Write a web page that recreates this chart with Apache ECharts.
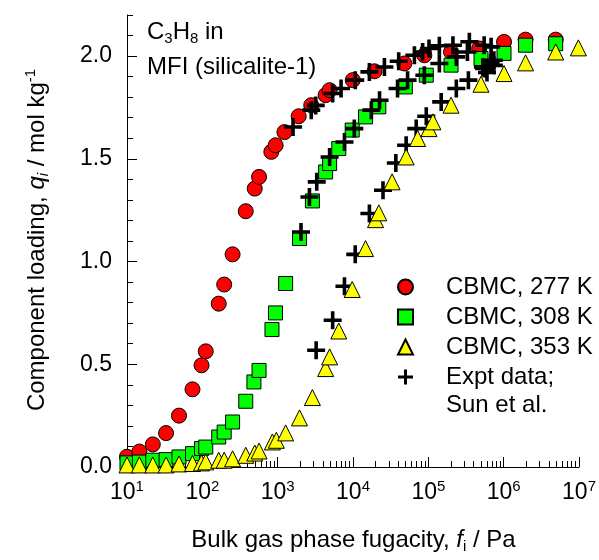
<!DOCTYPE html>
<html>
<head>
<meta charset="utf-8">
<script src="https://cdn.jsdelivr.net/npm/echarts@6/dist/echarts.min.js"></script>
<style>
  html, body { margin: 0; padding: 0; background: #fff; }
  #chart { width: 599px; height: 560px; }
</style>
</head>
<body>
<div id="chart"></div>
<script>
// fugacity in Pa, loading in mol/kg
const f277 = [10, 14.6, 22, 33, 49, 74, 97.5, 111, 165, 195, 252, 377, 496, 566, 824, 940, 1230, 1900, 2790, 4330, 4890, 9930, 19300, 48000, 88500, 2.0e5, 4.73e5, 1.01e6, 1.95e6, 4.9e6];
const q277 = [0.05, 0.075, 0.11, 0.165, 0.25, 0.378, 0.495, 0.563, 0.795, 0.888, 1.035, 1.245, 1.355, 1.412, 1.534, 1.566, 1.63, 1.707, 1.761, 1.81, 1.834, 1.883, 1.926, 1.964, 2.004, 2.02, 2.037, 2.069, 2.08, 2.08];

const f308 = [10, 14.6, 22, 33, 49, 74, 97.5, 111, 165, 195, 252, 377, 484, 566, 840, 935, 1276, 1950, 2890, 4330, 4890, 6470, 9750, 14660, 22000, 49500, 93800, 2.0e5, 5.0e5, 1.01e6, 1.95e6, 4.9e6];
const q308 = [0.02, 0.024, 0.033, 0.036, 0.049, 0.065, 0.09, 0.097, 0.146, 0.17, 0.219, 0.32, 0.414, 0.47, 0.669, 0.75, 0.893, 1.112, 1.295, 1.436, 1.477, 1.55, 1.64, 1.704, 1.753, 1.85, 1.907, 1.956, 1.988, 2.013, 2.053, 2.06];

const f353 = [10, 14.6, 22, 33, 49, 74, 97.5, 111, 165, 195, 252, 377, 496, 566, 850, 960, 1276, 1950, 2890, 4330, 4890, 6470, 9750, 14660, 19900, 22000, 33000, 50700, 72000, 102000, 115000, 2.0e5, 5.0e5, 1.01e6, 1.95e6, 4.9e6, 9.8e6];
const q353 = [0.01, 0.01, 0.01, 0.01, 0.015, 0.017, 0.02, 0.025, 0.033, 0.033, 0.04, 0.057, 0.068, 0.078, 0.122, 0.13, 0.166, 0.239, 0.338, 0.479, 0.536, 0.662, 0.864, 1.063, 1.204, 1.237, 1.388, 1.509, 1.599, 1.647, 1.68, 1.761, 1.863, 1.915, 1.967, 2.02, 2.04];

// experimental data (Sun et al.)
const fExp277 = [1600, 2790, 3200, 5370, 6940, 10700, 16500, 26100, 40400, 65300, 84000, 102000, 140000, 212000, 350000, 550000, 680000];
const qExp277 = [1.655, 1.737, 1.76, 1.818, 1.842, 1.883, 1.923, 1.947, 1.975, 2.004, 2.02, 2.037, 2.05, 2.053, 2.07, 2.053, 2.045];
const fExp308 = [2040, 2640, 3300, 4890, 7700, 10400, 17500, 22500, 39000, 53000, 88500, 140000, 235000, 330000, 550000, 670000, 740000];
const qExp308 = [1.144, 1.314, 1.388, 1.509, 1.582, 1.647, 1.737, 1.785, 1.842, 1.883, 1.907, 1.964, 1.996, 2.02, 1.94, 1.964, 1.98];
const fExp353 = [3240, 5370, 7700, 10700, 16500, 25000, 37000, 50700, 69000, 93800, 148000, 235000, 340000, 530000, 600000, 740000];
const qExp353 = [0.568, 0.714, 0.88, 1.035, 1.234, 1.347, 1.48, 1.566, 1.647, 1.707, 1.777, 1.842, 1.883, 1.947, 1.92, 1.955];

const xMajorTicks = [10, 100, 1e3, 1e4, 1e5, 1e6, 1e7];
const xMinorSteps = [2, 3, 4, 5, 6, 7, 8, 9];
const yMajorTicks = [0, 0.5, 1.0, 1.5, 2.0];
const yMinorTicks = [0.1, 0.2, 0.3, 0.4, 0.6, 0.7, 0.8, 0.9, 1.1, 1.2, 1.3, 1.4, 1.6, 1.7, 1.8, 1.9, 2.1, 2.2];

const font = 'Liberation Sans, Arial, Helvetica, sans-serif';
const crossPath = 'path://M8,0H12V8H20V12H12V20H8V12H0V8H8Z';

const zip = (xs, ys) => xs.map((x, i) => [x, ys[i]]);

const xMinorTicks = [];
xMajorTicks.slice(0, -1).forEach(d => xMinorSteps.forEach(k => xMinorTicks.push(d * k)));

const chart = echarts.init(document.getElementById('chart'), null, { renderer: 'canvas' });

const option = {
  backgroundColor: '#fff',
  animation: false,
  textStyle: { fontFamily: font },
  grid: { left: 127, right: 19, top: 15, bottom: 93, containLabel: false },
  xAxis: [
    {
      type: 'log', logBase: 10, min: 10, max: 1e7,
      axisLine: { lineStyle: { color: '#000', width: 1 } },
      axisTick: { inside: true, length: 10, lineStyle: { color: '#000' }, customValues: xMajorTicks },
      splitLine: { show: false },
      axisLabel: {
        customValues: xMajorTicks,
        margin: 12,
        color: '#000',
        formatter: v => '{b|10}{s|' + Math.round(Math.log10(v)) + '}',
        rich: {
          b: { fontSize: 23, lineHeight: 28, color: '#000', fontFamily: font },
          s: { fontSize: 15, lineHeight: 12, verticalAlign: 'top', color: '#000', fontFamily: font }
        }
      }
    },
    {
      type: 'log', logBase: 10, min: 10, max: 1e7, position: 'bottom', offset: 0,
      axisLine: { show: false },
      axisTick: { inside: true, length: 6, lineStyle: { color: '#000' }, customValues: xMinorTicks },
      axisLabel: { show: false },
      splitLine: { show: false }
    }
  ],
  yAxis: [
    {
      type: 'value', min: 0, max: 2.2,
      axisLine: { show: true, lineStyle: { color: '#000', width: 1 } },
      axisTick: { show: true, inside: true, length: 10, lineStyle: { color: '#000' }, customValues: yMajorTicks },
      splitLine: { show: false },
      axisLabel: {
        customValues: yMajorTicks,
        margin: 15,
        color: '#000', fontSize: 23, fontFamily: font,
        formatter: v => v.toFixed(1)
      }
    },
    {
      type: 'value', min: 0, max: 2.2, position: 'left', offset: 0,
      axisLine: { show: false },
      axisTick: { show: true, inside: true, length: 6, lineStyle: { color: '#000' }, customValues: yMinorTicks },
      axisLabel: { show: false },
      splitLine: { show: false }
    }
  ],
  legend: {
    orient: 'vertical', left: 392, top: 267,
    itemWidth: 15, itemHeight: 15, itemGap: 0,
    selectedMode: false,
    data: ['CBMC, 277 K', 'CBMC, 308 K', 'CBMC, 353 K', 'Expt data;'],
    textStyle: { fontSize: 24, color: '#000', lineHeight: 30, padding: [0, 0, 0, 28], fontFamily: font }
  },
  series: [
    {
      name: 'CBMC, 277 K', type: 'scatter', clip: false,
      symbol: 'circle', symbolSize: 15,
      itemStyle: { color: '#ff0000', borderColor: '#000', borderWidth: 1, opacity: 1 },
      data: zip(f277, q277)
    },
    {
      name: 'CBMC, 308 K', type: 'scatter', clip: false,
      symbol: 'rect', symbolSize: 14,
      itemStyle: { color: '#00ff00', borderColor: '#000', borderWidth: 1, opacity: 1 },
      data: zip(f308, q308)
    },
    {
      name: 'Expt data;', type: 'scatter', clip: false,
      symbol: crossPath, symbolSize: 18,
      itemStyle: { color: '#000', opacity: 1 },
      data: zip(fExp277, qExp277).concat(zip(fExp308, qExp308), zip(fExp353, qExp353))
    },
    {
      name: 'CBMC, 353 K', type: 'scatter', clip: false,
      symbol: 'triangle', symbolSize: 16,
      itemStyle: { color: '#ffff00', borderColor: '#000', borderWidth: 1, opacity: 1 },
      data: zip(f353, q353)
    }
  ],
  graphic: [
    {
      type: 'text', x: 147, y: 32,
      style: {
        text: '{n|C}{d|3}{n|H}{d|8}{n| in}',
        verticalAlign: 'middle', align: 'left',
        rich: {
          n: { fontSize: 24, lineHeight: 28, fontFamily: font, fill: '#000' },
          d: { fontSize: 15, lineHeight: 10, verticalAlign: 'bottom', fontFamily: font, fill: '#000' }
        }
      }
    },
    {
      type: 'text', x: 147, y: 67,
      style: { text: 'MFI (silicalite-1)', fontSize: 24, fontFamily: font, fill: '#000', verticalAlign: 'middle', align: 'left' }
    },
    {
      type: 'text', x: 446, y: 405,
      style: { text: 'Sun et al.', fontSize: 24, fontFamily: font, fill: '#000', verticalAlign: 'middle', align: 'left' }
    },
    {
      type: 'text', x: 353.5, y: 540,
      style: {
        text: '{n|Bulk gas phase fugacity, }{i|f}{d|i}{n| / Pa}',
        align: 'center', verticalAlign: 'middle',
        rich: {
          n: { fontSize: 24, lineHeight: 28, fontFamily: font, fill: '#000' },
          i: { fontSize: 24, lineHeight: 28, fontStyle: 'italic', fontFamily: font, fill: '#000' },
          d: { fontSize: 15, lineHeight: 10, verticalAlign: 'bottom', fontFamily: font, fill: '#000' }
        }
      }
    },
    {
      type: 'text', x: 37, y: 240, rotation: Math.PI / 2,
      style: {
        text: '{n|Component loading, }{i|q}{di|i}{n| / mol kg}{s|-1}',
        align: 'center', verticalAlign: 'middle',
        rich: {
          n: { fontSize: 24, lineHeight: 28, fontFamily: font, fill: '#000' },
          i: { fontSize: 24, lineHeight: 28, fontStyle: 'italic', fontFamily: font, fill: '#000' },
          di: { fontSize: 15, lineHeight: 10, verticalAlign: 'bottom', fontStyle: 'italic', fontFamily: font, fill: '#000' },
          s: { fontSize: 15, lineHeight: 12, verticalAlign: 'top', fontFamily: font, fill: '#000' }
        }
      }
    }
  ]
};

chart.setOption(option);
</script>
</body>
</html>
